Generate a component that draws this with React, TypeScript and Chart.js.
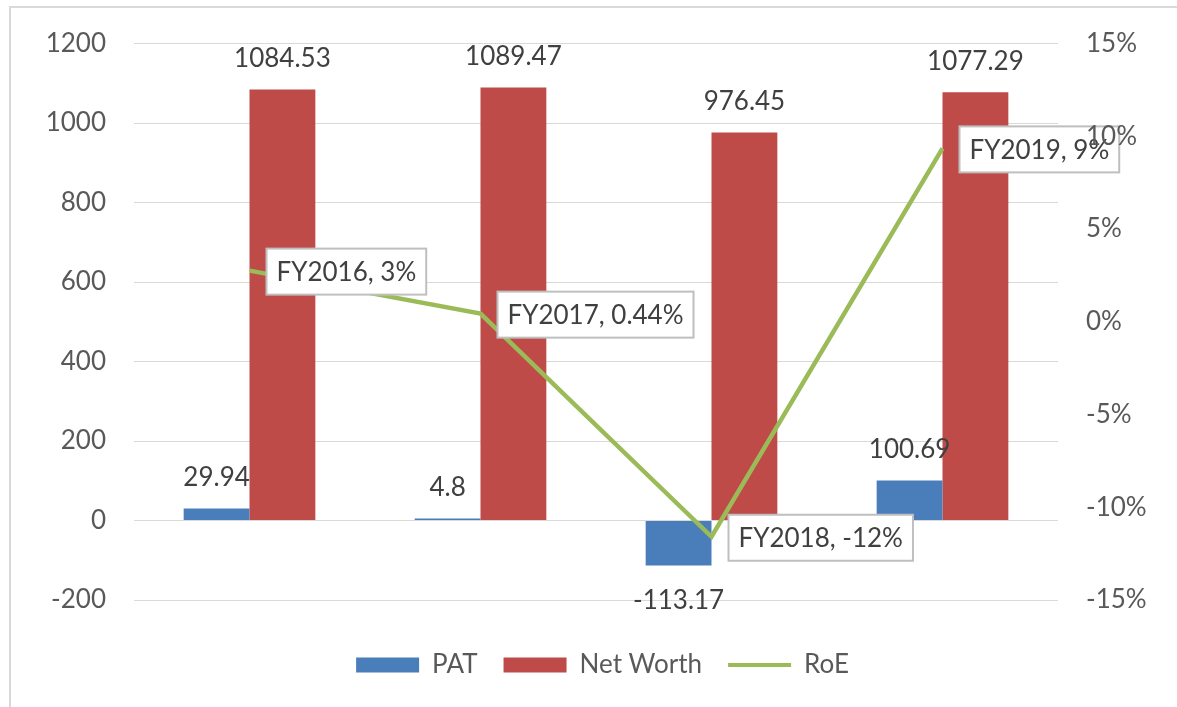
import React, { useEffect, useRef } from 'react';
import { Chart, registerables } from 'chart.js';

Chart.register(...registerables);

const categories = ['FY2016', 'FY2017', 'FY2018', 'FY2019'];
const patValues = [29.94, 4.8, -113.17, 100.69];
const netWorthValues = [1084.53, 1089.47, 976.45, 1077.29];
const roeValues = [2.76, 0.44, -11.59, 9.35];
const roeLabels = ['3%', '0.44%', '-12%', '9%'];
const seriesNames = ['PAT', 'Net Worth', 'RoE'];

const BLUE = '#4a7ebb';
const RED = '#be4b48';
const GREEN = '#9bbb59';
const FONT = 'Lato, "Open Sans", sans-serif';
const FONT_SIZE = 26;

const labelPlugin = {
  id: 'valueLabels',
  afterDatasetsDraw(chart: any) {
    const ctx = chart.ctx;
    ctx.save();
    ctx.font = `${FONT_SIZE}px ${FONT}`;
    ctx.textBaseline = 'middle';
    ctx.textAlign = 'center';
    ctx.fillStyle = '#404040';
    [0, 1].forEach((di) => {
      const meta = chart.getDatasetMeta(di);
      const vals = chart.data.datasets[di].data as number[];
      meta.data.forEach((bar: any, i: number) => {
        const v = vals[i];
        const y = v >= 0 ? bar.y - 31 : bar.y + 35;
        ctx.fillText(String(v), bar.x, y);
      });
    });
    const lineMeta = chart.getDatasetMeta(2);
    lineMeta.data.forEach((pt: any, i: number) => {
      const text = `${categories[i]}, ${roeLabels[i]}`;
      const w = ctx.measureText(text).width + 20;
      const h = 46;
      const x = pt.x + 17;
      const y = pt.y + 1 - h / 2;
      ctx.fillStyle = '#ffffff';
      ctx.fillRect(x, y, w, h);
      ctx.strokeStyle = '#bfbfbf';
      ctx.lineWidth = 2;
      ctx.strokeRect(x, y, w, h);
      ctx.fillStyle = '#404040';
      ctx.textAlign = 'left';
      ctx.fillText(text, x + 10, y + h / 2 + 1);
    });
    ctx.restore();
  },
};

export default function App() {
  const canvasRef = useRef<HTMLCanvasElement | null>(null);

  useEffect(() => {
    if (!canvasRef.current) return;
    Chart.defaults.font.family = FONT;
    const chart = new Chart(canvasRef.current, {
      type: 'bar',
      data: {
        labels: categories,
        datasets: [
          {
            type: 'bar',
            label: seriesNames[0],
            data: patValues,
            backgroundColor: BLUE,
            yAxisID: 'y',
            order: 1,
            barPercentage: 1,
            categoryPercentage: 0.57,
          },
          {
            type: 'bar',
            label: seriesNames[1],
            data: netWorthValues,
            backgroundColor: RED,
            yAxisID: 'y',
            order: 1,
            barPercentage: 1,
            categoryPercentage: 0.57,
          },
          {
            type: 'line',
            label: seriesNames[2],
            data: roeValues,
            borderColor: GREEN,
            backgroundColor: GREEN,
            borderWidth: 4.5,
            pointRadius: 0,
            tension: 0,
            yAxisID: 'y1',
            order: 0,
          } as any,
        ],
      },
      options: {
        animation: false,
        responsive: false,
        maintainAspectRatio: false,
        layout: { padding: { left: 28, right: 0, top: 42, bottom: 19 } },
        plugins: {
          tooltip: { enabled: false },
          legend: {
            position: 'bottom',
            labels: {
              usePointStyle: true,
              pointStyleWidth: 63,
              boxHeight: 15,
              padding: 26,
              color: '#595959',
              font: { size: FONT_SIZE, family: FONT },
              generateLabels: () => [
                { text: seriesNames[0], fillStyle: BLUE, strokeStyle: BLUE, lineWidth: 0, pointStyle: 'rect', datasetIndex: 0, hidden: false, fontColor: '#595959' },
                { text: seriesNames[1], fillStyle: RED, strokeStyle: RED, lineWidth: 0, pointStyle: 'rect', datasetIndex: 1, hidden: false, fontColor: '#595959' },
                { text: seriesNames[2], fillStyle: GREEN, strokeStyle: GREEN, lineWidth: 4, pointStyle: 'line', datasetIndex: 2, hidden: false, fontColor: '#595959' },
              ] as any,
            },
          },
        },
        scales: {
          x: {
            grid: { display: false },
            border: { display: false },
            ticks: { display: false },
            afterFit: (s: any) => { s.height = 26; },
          },
          y: {
            position: 'left',
            min: -200,
            max: 1200,
            ticks: {
              stepSize: 200,
              padding: 28,
              color: '#595959',
              font: { size: FONT_SIZE, family: FONT },
              callback: (v: any) => String(v),
            },
            grid: { color: '#d9d9d9', lineWidth: 1, drawTicks: false },
            border: { display: false },
            afterFit: (s: any) => { s.width = 106; },
          },
          y1: {
            position: 'right',
            min: -15,
            max: 15,
            ticks: {
              z: 1,
              stepSize: 5,
              padding: 28,
              color: '#595959',
              font: { size: FONT_SIZE, family: FONT },
              callback: (v: any) => `${v}%`,
            },
            grid: { display: false, drawTicks: false },
            border: { display: false },
            afterFit: (s: any) => { s.width = 119; },
          },
        },
      },
      plugins: [labelPlugin],
    } as any);
    return () => chart.destroy();
  }, []);

  return (
    <div style={{ position: 'absolute', left: 0, top: 0, width: 1177, height: 707, overflow: 'hidden', background: '#fff' }}>
      <div style={{ position: 'absolute', left: 9, top: 6, width: 1300, height: 800, borderTop: '2px solid #d9d9d9', borderLeft: '2px solid #d9d9d9' }} />
      <canvas ref={canvasRef} width={1177} height={707} style={{ position: 'absolute', left: 0, top: 0, width: 1177, height: 707 }} />
    </div>
  );
}
